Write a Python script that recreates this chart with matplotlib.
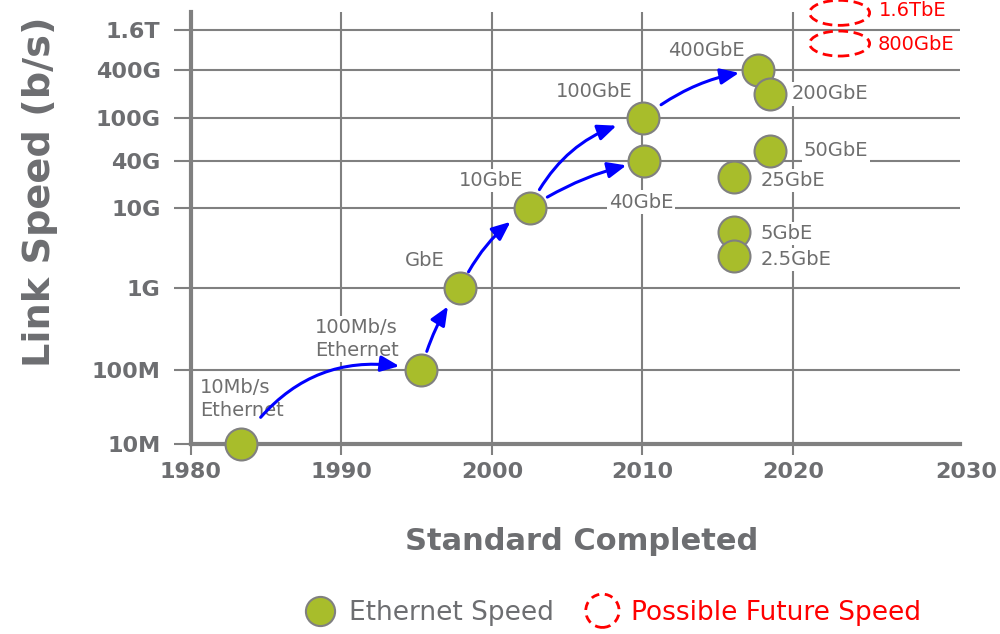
import matplotlib
matplotlib.use("Agg")
import matplotlib.pyplot as plt
import matplotlib.patches as mpatches
import matplotlib.transforms as mtransforms
from matplotlib.lines import Line2D
from matplotlib.legend_handler import HandlerPatch
import numpy as np

# --- data ---
tick_speeds = [1e7, 1e8, 1e9, 1e10, 4e10, 1e11, 4e11, 1.6e12]
tick_labels = ["10M", "100M", "1G", "10G", "40G", "100G", "400G", "1.6T"]
year_ticks = [1980, 1990, 2000, 2010, 2020]
last_year_label = 2030

names = ["10Mb/s\nEthernet", "100Mb/s\nEthernet", "GbE", "10GbE", "40GbE",
         "100GbE", "400GbE", "200GbE", "50GbE", "25GbE", "5GbE", "2.5GbE"]
years = [1983.3, 1995.3, 1997.9, 2002.5, 2010.1,
         2010.05, 2017.7, 2018.45, 2018.45, 2016.1, 2016.1, 2016.1]
speeds = [1e7, 1e8, 1e9, 1e10, 4e10,
          1e11, 4e11, 2e11, 5e10, 2.5e10, 5e9, 2.5e9]

future_names = ["1.6TbE", "800GbE"]
future_years = [2023.1, 2023.1]
future_speeds = [2.9e12, 1.0e12]   # where the rings sit in the picture

# arrows between points (index into the lists above)
arrow_pairs = [(0, 1), (1, 2), (2, 3), (3, 5), (3, 4), (5, 6)]

# --- styling / layout ---
GREEN = "#a8bd2b"
GRAY = "#808080"
TXT = "#6d6e71"
LBL = "#6e6e6e"

# the speed axis of the original is only roughly logarithmic:
# height of each tick row above the 10M row, in pixels
tick_rows = np.array([0, 74, 156, 236, 282.5, 326, 374, 414], dtype=float)
axis_rows = 432.0
tick_log = np.log10(tick_speeds)


def fwd(v):
    lv = np.log10(np.clip(np.asarray(v, dtype=float), 1e-30, None))
    out = np.interp(lv, tick_log, tick_rows)
    lo = (tick_rows[1] - tick_rows[0]) / (tick_log[1] - tick_log[0])
    hi = (tick_rows[-1] - tick_rows[-2]) / (tick_log[-1] - tick_log[-2])
    out = np.where(lv < tick_log[0], tick_rows[0] + (lv - tick_log[0]) * lo, out)
    out = np.where(lv > tick_log[-1], tick_rows[-1] + (lv - tick_log[-1]) * hi, out)
    return out


def inv(r):
    r = np.asarray(r, dtype=float)
    out = np.interp(r, tick_rows, tick_log)
    lo = (tick_log[1] - tick_log[0]) / (tick_rows[1] - tick_rows[0])
    hi = (tick_log[-1] - tick_log[-2]) / (tick_rows[-1] - tick_rows[-2])
    out = np.where(r < tick_rows[0], tick_log[0] + (r - tick_rows[0]) * lo, out)
    out = np.where(r > tick_rows[-1], tick_log[-1] + (r - tick_rows[-1]) * hi, out)
    return 10.0 ** out


# label placement: (dx, dy) in points from the marker, horizontal alignment
label_pos = {
    "10Mb/s\nEthernet": (-29.5, 32.4, "left"),
    "100Mb/s\nEthernet": (-76.3, 22.3, "left"),
    "GbE": (-11.5, 19.8, "right"),
    "10GbE": (-4.3, 19.8, "right"),
    "40GbE": (-2.2, -29.2, "center"),
    "100GbE": (-7.9, 19.4, "right"),
    "400GbE": (-10.1, 14.0, "right"),
    "200GbE": (15.8, 0.0, "left"),
    "50GbE": (24.5, 0.0, "left"),
    "25GbE": (18.7, -2.5, "left"),
    "5GbE": (18.7, -1.0, "left"),
    "2.5GbE": (18.7, -2.5, "left"),
}
future_pos = [(28.0, 2.0), (27.4, -1.0)]

# arrow styles: rad, shrinkA, shrinkB
arrow_style = [(-0.35, 24, 16), (-0.1, 14, 16), (-0.15, 13, 17),
               (-0.25, 15, 20), (-0.1, 15, 13), (-0.15, 16, 14)]

fig = plt.figure(figsize=(10, 6.34), dpi=100)
ax = fig.add_axes([0.191, 1 - 444 / 634, 0.769, axis_rows / 634])

ax.set_yscale("function", functions=(fwd, inv))

ax.grid(True, color=GRAY, lw=1.5)
ax.set_axisbelow(True)
for s in ["top", "right"]:
    ax.spines[s].set_visible(False)
for s in ["left", "bottom"]:
    ax.spines[s].set_linewidth(3)
    ax.spines[s].set_color(GRAY)

ax.set_xticks(year_ticks)
ax.set_yticks(tick_speeds, tick_labels)
ax.tick_params(axis="y", direction="out", length=12, width=1.5, color=GRAY,
               labelsize=16, labelcolor=TXT, pad=10)
ax.tick_params(axis="x", direction="out", length=8, width=1.5, color=GRAY,
               labelsize=16, labelcolor=TXT, pad=5)
for lbl in ax.get_xticklabels() + ax.get_yticklabels():
    lbl.set_fontweight("bold")

# 2030 sits a little right of where the scale would put it
ax.annotate(str(last_year_label), xy=(last_year_label, 0),
            xycoords=("data", "axes fraction"), xytext=(16.5, -13),
            textcoords="offset points", ha="center", va="top",
            fontsize=16, fontweight="bold", color=TXT, annotation_clip=False)

# markers
ax.scatter(years, speeds, s=(23) ** 2, c=GREEN, edgecolors=GRAY,
           linewidths=1.5, zorder=5, clip_on=False)

# labels
for name, x, y in zip(names, years, speeds):
    dx, dy, ha = label_pos[name]
    ax.annotate(name, xy=(x, y), xytext=(dx, dy), textcoords="offset points",
                ha=ha, va="center", fontsize=14, color=LBL, linespacing=1.3,
                bbox=dict(fc="white", ec="none", pad=1.5), zorder=3)

# future rings
for name, x, y, (dx, dy) in zip(future_names, future_years, future_speeds, future_pos):
    trans = fig.dpi_scale_trans + mtransforms.ScaledTranslation(x, y, ax.transData)
    ring = mpatches.Ellipse((0, 0), 0.6, 0.25, transform=trans, fill=False,
                            ec="red", lw=2, ls=(0, (3.5, 2)), clip_on=False, zorder=5)
    ax.add_patch(ring)
    ax.annotate(name, xy=(x, y), xytext=(dx, dy), textcoords="offset points",
                ha="left", va="center", fontsize=14, color="red",
                annotation_clip=False)

# arrows
for (a, b), (rad, sa, sb) in zip(arrow_pairs, arrow_style):
    ax.annotate("", xy=(years[b], speeds[b]), xytext=(years[a], speeds[a]),
                arrowprops=dict(arrowstyle="-|>,head_length=0.7,head_width=0.3",
                                color="blue", lw=2.2, mutation_scale=16,
                                connectionstyle=f"arc3,rad={rad}",
                                shrinkA=sa, shrinkB=sb),
                zorder=4)

ax.set_xlim(1980, 2031.1)
ax.set_ylim(1e7, float(inv(axis_rows)))

ax.set_xlabel("Standard Completed", fontsize=22, fontweight="bold",
              color=TXT, labelpad=32)
ax.xaxis.label.set_x(0.508)
ax.set_ylabel("Link Speed (b/s)", fontsize=27.5, fontweight="bold",
              color=TXT, labelpad=24)
ax.yaxis.label.set_y(0.585)


# legend
def make_ring(legend, orig_handle, xdescent, ydescent, width, height, fontsize):
    c = (0.5 * width - 0.5 * xdescent, 0.5 * height - 0.5 * ydescent)
    return mpatches.Circle(c, radius=12)


handles = [
    Line2D([], [], ls="none", marker="o", ms=21, mfc=GREEN, mec=GRAY, mew=1.5),
    mpatches.Circle((0, 0), 1, fill=False, ec="red", lw=2, ls=(0, (3, 2))),
]
fig.legend(handles, ["Ethernet Speed", "Possible Future Speed"],
           handler_map={mpatches.Circle: HandlerPatch(patch_func=make_ring)},
           loc="center", bbox_to_anchor=(0.612, 1 - 613 / 634), ncol=2,
           frameon=False, prop={"size": 19}, labelcolor=[TXT, "red"],
           handlelength=1.3, handletextpad=0.45, columnspacing=1.2)

fig.savefig("out.png", dpi=100)
